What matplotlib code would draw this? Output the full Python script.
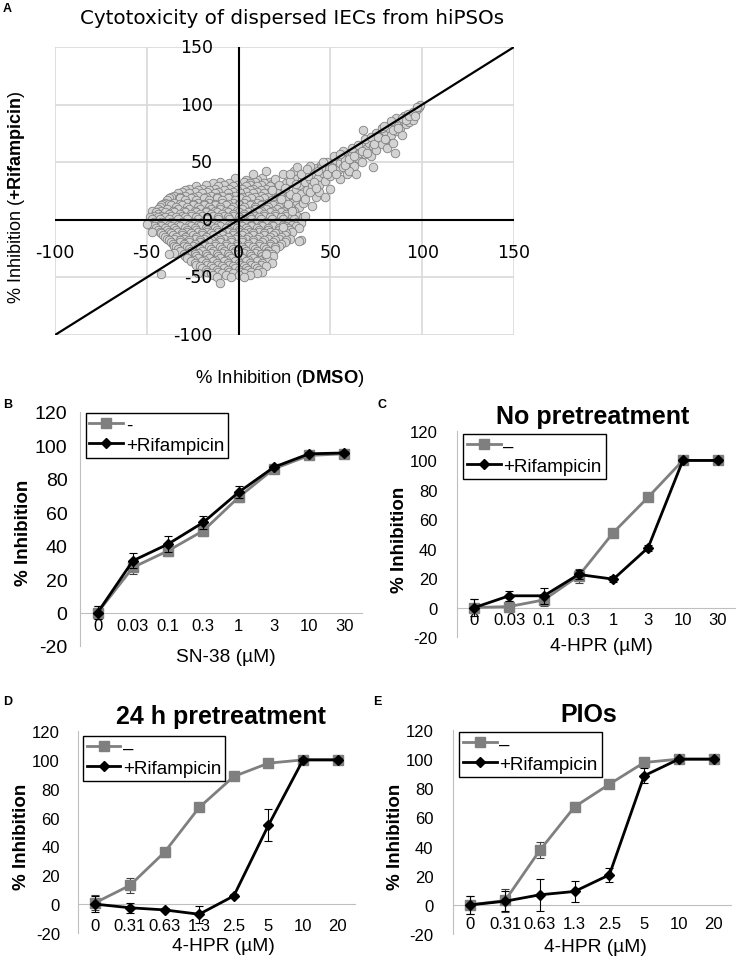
import numpy as np
import matplotlib
matplotlib.use('Agg')
import matplotlib.pyplot as plt

plt.rcParams['font.family'] = ['Liberation Sans', 'DejaVu Sans']
plt.rcParams['mathtext.fontset'] = 'custom'
plt.rcParams['mathtext.rm'] = 'Liberation Sans'
plt.rcParams['mathtext.bf'] = 'Liberation Sans:bold'
plt.rcParams['axes.unicode_minus'] = False

W, H = 736, 962

# ---- panel A : % inhibition DMSO (x) vs +Rifampicin (y)
# dense core, one row per Rifampicin level -> DMSO values
core_rows = {
    36: [-2, 13],
    34.5: [4, 10],
    33: [-10, 3, 9, 17],
    32: [-14, -5, 6, 14, 19],
    30.5: [-18, -8, -1, 6, 12, 20],
    29: [-23, -11, -3, 4, 10, 17, 25],
    27: [-27, -20, -13, -5, 2, 8, 15, 22],
    26: [-29, -22, -16, -8, -1, 6, 12, 19],
    24.5: [-31, -24, -17, -11, -3, 4, 10, 17, 24],
    23: [-33, -27, -20, -13, -6, 1, 8, 14, 21, 26],
    21: [-35, -29, -22, -15, -9, -2, 5, 12, 19, 27],
    20: [-37, -32, -25, -18, -12, -5, 2, 9, 16, 23, 30],
    18.5: [-38, -32, -26, -19, -12, -6, 1, 7, 14, 21, 28],
    17: [-39, -29, -23, -16, -9, -2, 4, 11, 18, 25, 31],
    15: [-40, -35, -28, -22, -16, -9, -3, 3, 10, 16, 23, 29],
    14: [-41, -38, -32, -25, -19, -13, -6, 0, 7, 13, 20, 26],
    12.5: [-42, -37, -31, -25, -19, -13, -7, 0, 6, 12, 19, 25, 31],
    11: [-43, -34, -28, -22, -16, -10, -3, 3, 9, 16, 22, 28, 33],
    9: [-44, -39, -33, -27, -21, -15, -10, -4, 2, 9, 15, 21, 27],
    8: [-47, -42, -36, -30, -24, -18, -13, -7, -1, 6, 12, 18, 24, 30],
    6.5: [-45, -40, -35, -29, -23, -18, -12, -6, 0, 5, 11, 17, 23, 29],
    5: [-44, -38, -32, -26, -21, -15, -9, -3, 3, 8, 14, 20, 26],
    3: [-46, -42, -37, -31, -26, -20, -14, -8, -3, 3, 9, 14, 20, 26, 32],
    2: [-48, -44, -40, -34, -29, -23, -17, -11, -6, 0, 6, 11, 17, 23, 29, 35],
    0.5: [-47, -43, -38, -33, -28, -22, -17, -11, -5, 1, 7, 12, 18, 24, 30],
    -1.5: [-46, -42, -37, -31, -25, -20, -14, -8, -2, 4, 9, 15, 21, 27, 32],
    -3: [-45, -40, -35, -30, -24, -19, -13, -8, -2, 4, 10, 15, 21, 27, 34],
    -4.5: [-48, -43, -38, -33, -27, -22, -16, -11, -5, 1, 7, 12, 18, 24, 29],
    -5.5: [-46, -42, -37, -32, -26, -21, -15, -10, -4, 2, 7, 13, 19, 25, 31],
    -7.5: [-45, -40, -35, -29, -24, -18, -13, -7, -1, 4, 10, 16, 22, 27, 33],
    -9: [-44, -39, -34, -28, -23, -17, -12, -6, 0, 5, 11, 16, 22, 28],
    -10.5: [-43, -38, -33, -28, -22, -17, -11, -6, 0, 6, 11, 17, 23, 29],
    -11.5: [-42, -37, -31, -26, -20, -15, -9, -3, 3, 8, 14, 20, 26],
    -13.5: [-41, -36, -31, -25, -20, -14, -9, -3, 2, 8, 14, 19, 25],
    -15: [-40, -34, -29, -23, -18, -12, -6, -1, 5, 11, 17, 23],
    -16.5: [-39, -35, -30, -24, -19, -13, -8, -2, 4, 10, 16, 22, 28],
    -17.5: [-38, -32, -27, -21, -15, -10, -4, 2, 8, 14, 20, 26, 34],
    -19.5: [-37, -32, -27, -21, -16, -10, -4, 2, 8, 13, 19, 25],
    -21: [-36, -30, -24, -19, -13, -7, -1, 5, 11, 17, 23],
    -22.5: [-35, -30, -25, -19, -13, -7, -1, 5, 11, 17, 22],
    -23.5: [-34, -28, -22, -16, -10, -4, 2, 8, 14, 20],
    -25.5: [-33, -27, -21, -15, -9, -3, 3, 9, 15, 20],
    -27: [-32, -26, -20, -14, -8, -2, 4, 10, 16],
    -28.5: [-35, -28, -22, -15, -9, -3, 3, 9, 15],
    -29.5: [-30, -24, -18, -12, -6, 0, 6, 12, 18],
    -31.5: [-29, -23, -17, -11, -5, 1, 7, 13, 19],
    -33: [-28, -22, -16, -10, -4, 2, 8, 14],
    -34.5: [-25, -19, -13, -7, -1, 5, 11],
    -35.5: [-26, -20, -14, -8, -2, 4, 10, 16],
    -37.5: [-24, -18, -12, -6, 0, 6, 13, 18],
    -39: [-23, -17, -11, -5, 1, 7, 12],
    -40.5: [-21, -15, -9, -3, 3, 9, 15],
    -41.5: [-20, -14, -8, -2, 4, 10],
    -43.5: [-18, -12, -6, 0, 5, 11],
    -45: [-17, -11, -5, 1, 7, 13],
    -46.5: [-22, -15, -9, -3, 3, 10],
    -48: [-14, -7, 0, 6],
    -50: [-12, -4, 3],
    -55: [-10],
}
# elongated arm and scattered points (DMSO, Rifampicin)
arm_pts = [
    (26, 32), (28, 22), (30, 36), (31, 27), (33, 30), (34, 22), (35, 38), (36, 33),
    (37, 26), (38, 42), (39, 35), (40, 29), (40, 12), (41, 40), (42, 45), (43, 36),
    (44, 30), (45, 48), (46, 41), (47, 34), (48, 50), (49, 44), (50, 38), (50, 27),
    (52, 47), (53, 52), (54, 43), (55, 49), (56, 55), (57, 46), (58, 52), (59, 40),
    (60, 58), (61, 50), (62, 56), (63, 47), (64, 61), (65, 54), (66, 58), (67, 50),
    (68, 64), (68, 78), (69, 57), (70, 62), (71, 67), (72, 55), (73, 46), (73, 64),
    (74, 70), (75, 61), (76, 68), (77, 74), (78, 66), (79, 72), (80, 77), (81, 62),
    (81, 70), (82, 80), (83, 74), (84, 67), (85, 82), (85, 58), (86, 77), (87, 85),
    (88, 80), (89, 74), (90, 86), (91, 83), (92, 88), (93, 85), (94, 91), (95, 87),
    (96, 93), (97, 96), (98, 98), (99, 100), (30, 42), (32, 46), (20, 35), (24, 40),
    (15, 42), (8, 40), (35, 15), (33, -18), (36, 3), (42, 20), (44, 24), (47, 20),
    (55, 35), (60, 42), (64, 40), (75, 75), (78, 80), (86, 88), (90, 90), (92, 92),
    (57, 60), (52, 55), (45, 45), (38, 38), (-42, -47), (-38, -30), (-47, -11),
    (-50, -4), (22, 30), (18, 26), (27, 14), (29, 8), (24, -6), (15, -30),
    (39, 47), (41, 33), (43, 42), (46, 50), (48, 40), (51, 45), (53, 40), (55, 57),
    (58, 48), (60, 53), (62, 62), (63, 55), (65, 65), (67, 60), (69, 70), (70, 58),
    (72, 72), (74, 66), (76, 72), (79, 81), (80, 70), (83, 86), (84, 78), (87, 80),
    (89, 88), (91, 87), (93, 90), (95, 94), (96, 90), (97, 98), (28, 34), (31, 31),
    (34, 40), (37, 44), (36, 18), (39, 24), (42, 28), (28, 40), (25, 28), (23, 18),
    (31, 20),
]
dmso = [x for yv, xs in core_rows.items() for x in xs] + [p[0] for p in arm_pts]
rifa = [yv for yv, xs in core_rows.items() for x in xs] + [p[1] for p in arm_pts]
a_ticks = [-100, -50, 0, 50, 100, 150]

# ---- panels B-E
sn38_conc = ['0', '0.03', '0.1', '0.3', '1', '3', '10', '30']
B_ctrl = [0, 27, 37, 49, 69, 86, 94, 95]
B_ctrl_err = [4, 4, 3, 3, 3, 1, 1, 1]
B_rif = [0, 31, 41, 54, 72, 87, 95, 95.5]
B_rif_err = [4, 4.5, 5, 4, 3.5, 1, 1, 1]

hpr_conc_c = ['0', '0.03', '0.1', '0.3', '1', '3', '10', '30']
C_ctrl = [0, 0.7, 5.2, 21.5, 51, 75, 100, 100]
C_ctrl_err = [6, 4, 4, 4.5, 2, 1, 1, 1]
C_rif = [0, 8, 8, 22.5, 19.3, 40.7, 100, 100]
C_rif_err = [6, 3.5, 5.5, 3, 2, 2, 1, 1]

hpr_conc = ['0', '0.31', '0.63', '1.3', '2.5', '5', '10', '20']
D_ctrl = [1, 13, 36, 67, 88.5, 97.7, 100, 100]
D_ctrl_err = [5, 5, 3, 1, 1, 1, 1, 1]
D_rif = [0, -2.5, -4, -7, 5.7, 54.7, 100, 100]
D_rif_err = [5.5, 3.5, 1, 6, 1, 11, 1, 1]

E_ctrl = [0, 3, 37.5, 67.3, 82.8, 97.7, 100, 100]
E_ctrl_err = [6, 8, 5.4, 3, 1, 1, 1, 1]
E_rif = [0, 2.5, 6.9, 9.2, 20.6, 88.6, 100, 100]
E_rif_err = [6, 7, 11, 7, 5, 5, 1, 1]

GRAY = '#7f7f7f'
AXC = '#bfbfbf'


def px(x0, y0, x1, y1):
    return [x0 / W, 1 - y1 / H, (x1 - x0) / W, (y1 - y0) / H]


fig = plt.figure(figsize=(W / 100, H / 100), dpi=100)

# ================= A =================
axA = fig.add_axes(px(55, 48, 514, 336))
axA.set_xlim(-100, 150)
axA.set_ylim(-100, 150)
axA.set_xticks(a_ticks)
axA.set_yticks(a_ticks)
axA.tick_params(length=0, labelbottom=False, labelleft=False)
axA.grid(True, color='#d9d9d9', lw=1.2)
axA.set_axisbelow(True)
for s in axA.spines.values():
    s.set_visible(False)
axA.scatter(dmso, rifa, s=38, c='#d3d3d3', edgecolors='#808080',
            linewidths=0.6, zorder=2)
axA.axhline(0, color='black', lw=1.5, zorder=3)
axA.axvline(0, color='black', lw=1.5, zorder=3)
axA.axline((0, 0), slope=1, color='black', lw=1.6, zorder=3)
for v in a_ticks:
    axA.text(-14, v, str(v), ha='right', va='center', fontsize=12.5,
             family='DejaVu Sans')
    axA.text(v, -28, str(v), ha='center', va='center', fontsize=12.5,
             family='DejaVu Sans')

fig.text(292 / W, 1 - 18 / H, 'Cytotoxicity of dispersed IECs from hiPSOs',
         ha='center', va='center', fontsize=14.3, family='DejaVu Sans')
fig.text(17 / W, 1 - 197 / H, r'% Inhibition ($\mathbf{{+}Rifampicin}$)',
         rotation=90, ha='center', va='center', fontsize=13)
fig.text(280 / W, 1 - 379 / H, r'% Inhibition ($\mathbf{DMSO}$)',
         ha='center', va='center', fontsize=13.3)


def panel(rect, cats, ctrl, ctrl_err, rif, rif_err, ctrl_lab, ypad, xpad,
          leg_anchor, ysize=12):
    ax = fig.add_axes(rect)
    x = np.arange(len(cats))
    ax.errorbar(x, ctrl, yerr=ctrl_err, fmt='none', ecolor='#404040',
                elinewidth=0.8, capsize=3, capthick=0.8, zorder=2)
    l1, = ax.plot(x, ctrl, color=GRAY, lw=2, marker='s', ms=6.8, zorder=3)
    ax.errorbar(x, rif, yerr=rif_err, fmt='none', ecolor='black',
                elinewidth=0.8, capsize=3, capthick=0.8, zorder=4)
    l2, = ax.plot(x, rif, color='black', lw=2, marker='D', ms=4.6, zorder=5)
    ax.set_xlim(-0.5, len(cats) - 0.5)
    ax.set_ylim(-20, 120)
    ax.set_yticks(range(-20, 121, 20))
    ax.set_xticks(x)
    ax.set_xticklabels(cats)
    ax.tick_params(axis='y', length=0, pad=ypad, labelsize=ysize)
    ax.tick_params(axis='x', length=0, pad=xpad, labelsize=12)
    ax.spines['top'].set_visible(False)
    ax.spines['right'].set_visible(False)
    ax.spines['left'].set_color(AXC)
    ax.spines['bottom'].set_color(AXC)
    ax.spines['bottom'].set_position(('data', 0))
    leg = ax.legend([l1, l2], [ctrl_lab, '+Rifampicin'], loc='upper left',
                    bbox_to_anchor=leg_anchor, borderaxespad=0, fontsize=13.5,
                    handlelength=1.8, handletextpad=0.15, labelspacing=0.15,
                    borderpad=0.2, fancybox=False, framealpha=1)
    leg.get_frame().set_edgecolor('black')
    leg.get_frame().set_linewidth(1)
    return ax


panel(px(80, 413, 362, 647), sn38_conc, B_ctrl, B_ctrl_err, B_rif, B_rif_err,
      '-', 9, 4, (0.02, 0.995), ysize=14)
panel(px(457, 432, 735, 638), hpr_conc_c, C_ctrl, C_ctrl_err, C_rif, C_rif_err,
      '\u2013', 14, 3, (0.022, 0.985))
panel(px(78, 732, 355, 934), hpr_conc, D_ctrl, D_ctrl_err, D_rif, D_rif_err,
      '\u2013', 13, 10, (0.018, 0.975))
panel(px(453, 731, 731, 935), hpr_conc, E_ctrl, E_ctrl_err, E_rif, E_rif_err,
      '\u2013', 14, 8, (0.022, 0.99))

# axis labels, titles, panel letters
ylab = [(24, 533), (400, 540), (22, 837), (395, 837)]
for xx, yy in ylab:
    fig.text(xx / W, 1 - yy / H, '% Inhibition', rotation=90, ha='center',
             va='center', fontsize=13.5, fontweight='bold')
xlab = [(226, 657, 'SN-38 (\u00b5M)'), (601, 647, '4-HPR (\u00b5M)'),
        (223, 947, '4-HPR (\u00b5M)'), (595, 948, '4-HPR (\u00b5M)')]
for xx, yy, t in xlab:
    fig.text(xx / W, 1 - yy / H, t, ha='center', va='center', fontsize=13.8)
titles = [(593, 417, 'No pretreatment'), (221, 717, '24 h pretreatment'),
          (589, 715, 'PIOs')]
for xx, yy, t in titles:
    fig.text(xx / W, 1 - yy / H, t, ha='center', va='center', fontsize=18,
             fontweight='bold')
letters = [(3, 9, 'A'), (3, 405, 'B'), (378, 405, 'C'), (3, 702, 'D'), (373, 702, 'E')]
for xx, yy, t in letters:
    fig.text(xx / W, 1 - yy / H, t, ha='left', va='center', fontsize=9,
             fontweight='bold')

fig.savefig('out.png', dpi=100)
